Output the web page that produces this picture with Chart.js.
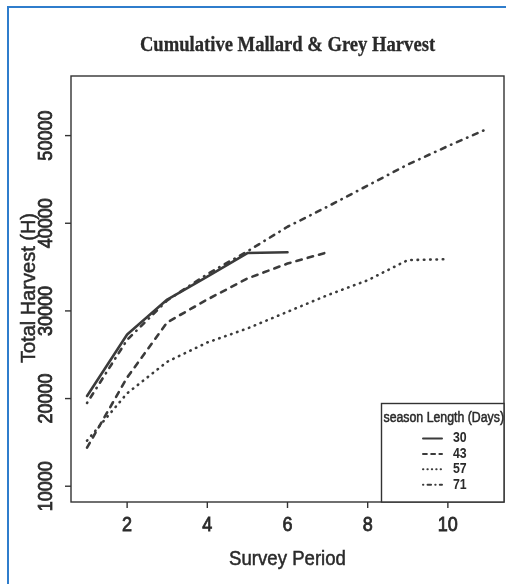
<!DOCTYPE html>
<html>
<head>
<meta charset="utf-8">
<title>Cumulative Mallard &amp; Grey Harvest</title>
<script src="https://cdn.jsdelivr.net/npm/chart.js@4/dist/chart.umd.min.js"></script>
<style>
  html, body { margin: 0; padding: 0; background: #ffffff; }
  #wrap { position: relative; width: 506px; height: 584px; overflow: hidden; }
  #chart { position: absolute; left: 0; top: 0; }
  #edge {
    position: absolute; left: 7px; top: 6px; width: 520px; height: 600px;
    border-left: 2px solid #2f7dcc; border-top: 2px solid #2f7dcc;
    pointer-events: none;
  }
</style>
</head>
<body>
<div id="wrap">
  <canvas id="chart" width="506" height="584"></canvas>
  <div id="edge"></div>
</div>
<script>
// Survey periods (x) and cumulative harvest per season length
const periods = [1, 2, 3, 4, 5, 6, 7, 8, 9, 10, 11];
const seasonLengths = ['30', '43', '57', '71'];
const harvest30 = [20300, 27300, 31300, 33900, 36600, 36700];
const harvest43 = [14400, 22400, 28700, 31300, 33700, 35400, 36700];
const harvest57 = [15200, 20600, 24200, 26400, 28000, 29900, 31800, 33500, 35800, 35900];
const harvest71 = [19500, 26700, 31200, 34200, 36800, 39600, 41900, 44300, 46700, 48800, 50800];

// Axis ticks and labels
const xTicks = [2, 4, 6, 8, 10];
const yTicks = [10000, 20000, 30000, 40000, 50000];
const titleText = 'Cumulative Mallard & Grey Harvest';
const xTitle = 'Survey Period';
const yTitle = 'Total Harvest (H)';
const legendTitle = 'season Length (Days)';

const ink = '#3b3b3b';
const textInk = '#2a2a2a';

// Line patterns: solid, dashed, dotted, dot-dash
const dashes = [[], [5.5, 6.2], [0.5, 5.8], [0.5, 6, 5, 6]];
const seriesValues = [harvest30, harvest43, harvest57, harvest71];

const datasets = seriesValues.map((vals, i) => ({
  label: seasonLengths[i],
  data: vals.map((v, j) => ({ x: periods[j], y: v })),
  borderColor: ink,
  borderWidth: 2.6,
  borderDash: dashes[i],
  borderCapStyle: 'round',
  borderJoinStyle: 'round',
  pointRadius: 0,
  tension: 0,
  fill: false
}));

// Text drawn slightly condensed, with a faint outline for a heavier stroke
function condensedText(ctx, text, x, y, sx, rot, weight) {
  ctx.save();
  ctx.translate(x, y);
  if (rot) ctx.rotate(rot);
  ctx.scale(sx, 1);
  ctx.fillText(text, 0, 0);
  if (weight) {
    ctx.lineWidth = weight;
    ctx.strokeStyle = ctx.fillStyle;
    ctx.setLineDash([]);
    ctx.strokeText(text, 0, 0);
  }
  ctx.restore();
}

// Draws the box frame, ticks, titles and the legend in base-graphics style
const basePlot = {
  id: 'basePlot',
  afterDraw(chart) {
    const ctx = chart.ctx;
    const area = chart.chartArea;
    const xs = chart.scales.x, ys = chart.scales.y;
    const sans = '"Liberation Sans", Arial, sans-serif';

    ctx.save();
    // frame
    ctx.strokeStyle = '#333333';
    ctx.lineWidth = 1.4;
    ctx.setLineDash([]);
    ctx.strokeRect(area.left, area.top, area.right - area.left, area.bottom - area.top);

    // x ticks
    ctx.fillStyle = textInk;
    ctx.font = '20px ' + sans;
    ctx.textAlign = 'center';
    ctx.textBaseline = 'middle';
    xTicks.forEach(v => {
      const px = xs.getPixelForValue(v);
      ctx.beginPath();
      ctx.moveTo(px, area.bottom);
      ctx.lineTo(px, area.bottom + 6);
      ctx.stroke();
      condensedText(ctx, String(v), px, area.bottom + 23, 0.9, 0, 0.8);
    });

    // y ticks (labels read bottom to top)
    yTicks.forEach(v => {
      const py = ys.getPixelForValue(v);
      ctx.beginPath();
      ctx.moveTo(area.left - 6, py);
      ctx.lineTo(area.left, py);
      ctx.stroke();
      condensedText(ctx, String(v), area.left - 24.5, py, 0.9, -Math.PI / 2, 0.8);
    });

    // title
    const cx = (area.left + area.right) / 2;
    ctx.font = 'bold 20px "Liberation Serif", "Times New Roman", serif';
    ctx.textBaseline = 'alphabetic';
    condensedText(ctx, titleText, cx, 51, 0.93, 0, 0.3);

    // axis titles
    ctx.font = '20px ' + sans;
    condensedText(ctx, xTitle, cx, 565, 0.93, 0, 0.5);
    condensedText(ctx, yTitle, 35, (area.top + area.bottom) / 2 - 1, 1.0, -Math.PI / 2, 0.5);

    // legend box
    const lx0 = 381.5, ly0 = 403.5, lx1 = area.right, ly1 = area.bottom;
    ctx.fillStyle = '#ffffff';
    ctx.fillRect(lx0, ly0, lx1 - lx0, ly1 - ly0);
    ctx.strokeStyle = '#333333';
    ctx.lineWidth = 1.4;
    ctx.strokeRect(lx0, ly0, lx1 - lx0, ly1 - ly0);

    ctx.fillStyle = textInk;
    ctx.font = '14px ' + sans;
    ctx.textBaseline = 'middle';
    ctx.textAlign = 'center';
    condensedText(ctx, legendTitle, (lx0 + lx1) / 2 + 1, 418.5, 0.88, 0, 0.5);

    ctx.textAlign = 'left';
    ctx.font = 'bold 14px ' + sans;
    chart.data.datasets.forEach((ds, i) => {
      const yy = 438.5 + i * 15.4;
      ctx.strokeStyle = ink;
      ctx.lineWidth = 2;
      ctx.lineCap = 'round';
      ctx.setLineDash(ds.borderDash.map(d => d * 0.7));
      ctx.beginPath();
      ctx.moveTo(423, yy);
      ctx.lineTo(442, yy);
      ctx.stroke();
      ctx.setLineDash([]);
      condensedText(ctx, ds.label, 453, yy, 0.88, 0, 0);
    });
    ctx.restore();
  }
};

new Chart(document.getElementById('chart'), {
  type: 'line',
  data: { datasets },
  options: {
    responsive: false,
    animation: false,
    devicePixelRatio: 1,
    layout: { padding: { left: 71, top: 76, right: 2, bottom: 82 } },
    scales: {
      x: { type: 'linear', display: false, min: 0.6, max: 11.4 },
      y: { type: 'linear', display: false, min: 8200, max: 56800 }
    },
    plugins: {
      legend: { display: false },
      title: { display: false },
      tooltip: { enabled: false }
    }
  },
  plugins: [basePlot]
});
</script>
</body>
</html>
